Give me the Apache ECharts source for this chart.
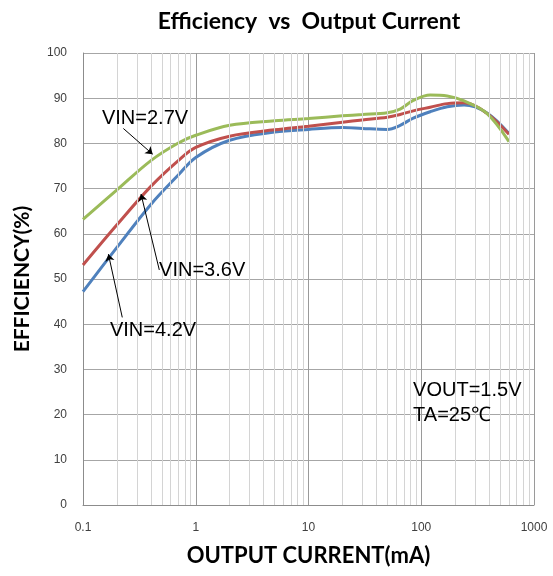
<!DOCTYPE html>
<html>
<head>
<meta charset="utf-8">
<script src="https://cdn.jsdelivr.net/npm/echarts@6/dist/echarts.min.js"></script>
<style>
    html, body { margin: 0; padding: 0; background: #fff; }
    #main { width: 553px; height: 576px; }
</style>
</head>
<body>
<div id="main"></div>
<script>
// output current (mA), log scale
var current = [0.1, 0.2, 0.4, 0.7, 1, 2, 5, 10, 20, 30, 50, 65, 85, 120, 170, 240, 380, 600];
// efficiency (%) per input voltage
var eff27 = [63.2, 69.7, 76.2, 80.1, 81.8, 84.0, 85.0, 85.5, 86.1, 86.4, 86.8, 87.6, 89.5, 90.7, 90.5, 89.4, 86.7, 80.4];
var eff36 = [53.1, 62.0, 70.5, 76.2, 79.1, 81.6, 83.0, 83.8, 84.7, 85.2, 85.8, 86.4, 87.2, 88.0, 88.8, 89.0, 86.7, 82.0];
var eff42 = [47.2, 57.0, 66.5, 73.0, 76.9, 80.7, 82.5, 83.1, 83.5, 83.3, 83.1, 84.0, 85.6, 87.0, 88.1, 88.5, 86.8, 82.2];
var xTickLabels = ['0.1', '1', '10', '100', '1000'];
var yTicks = [0, 10, 20, 30, 40, 50, 60, 70, 80, 90, 100];
// minor vertical grid lines (2..9 of each decade)
var minorX = [];
for (var d = 0.1; d < 1000; d *= 10) {
    for (var k = 2; k <= 9; k++) {
        minorX.push(+(d * k).toPrecision(3));
    }
}

function pairs(ys) {
    var out = [];
    for (var i = 0; i < current.length; i++) {
        out.push([current[i], ys[i]]);
    }
    return out;
}

var myChart = echarts.init(document.getElementById('main'));
var txtFont = '"Liberation Sans", Arial, sans-serif';

var option = {
    animation: false,
    title: {
        text: 'Efficiency  vs  Output Current',
        left: 304,
        textAlign: 'center',
        top: 5,
        textStyle: { fontFamily: 'Lato, sans-serif', fontWeight: 'bold', fontSize: 23, color: '#000' }
    },
    grid: { left: 83, right: 19, top: 53, bottom: 71 },
    xAxis: {
        type: 'log',
        logBase: 10,
        min: 0.1,
        max: 1000,
        name: 'OUTPUT CURRENT(mA)',
        nameLocation: 'middle',
        nameGap: 40,
        nameTextStyle: { fontFamily: 'Lato, sans-serif', fontWeight: 'bold', fontSize: 22, color: '#000' },
        axisLine: { lineStyle: { color: '#8c8c8c' } },
        axisTick: { show: false },
        axisLabel: {
            margin: 17,
            fontFamily: txtFont,
            fontSize: 12,
            color: '#404040',
            formatter: function (v) {
                var s = String(+v.toPrecision(3));
                return xTickLabels.indexOf(s) >= 0 ? s : '';
            }
        },
        splitLine: { show: true, lineStyle: { color: '#9a9a9a' } }
    },
    yAxis: {
        type: 'value',
        min: 0,
        max: 100,
        interval: 10,
        name: 'EFFICIENCY(%)',
        nameLocation: 'middle',
        nameGap: 50,
        nameTextStyle: { fontFamily: 'Lato, sans-serif', fontWeight: 'bold', fontSize: 21, color: '#000' },
        axisLine: { show: true, lineStyle: { color: '#8c8c8c' } },
        axisTick: { show: false },
        axisLabel: {
            margin: 16,
            fontFamily: txtFont,
            fontSize: 12,
            color: '#404040',
            formatter: function (v) { return yTicks.indexOf(v) >= 0 ? String(v) : ''; }
        },
        splitLine: { show: true, lineStyle: { color: '#a6a6a6' } }
    },
    series: [
        {
            name: 'grid',
            type: 'line',
            data: [],
            z: 1,
            silent: true,
            markLine: {
                silent: true,
                symbol: ['none', 'none'],
                label: { show: false },
                lineStyle: { color: '#d4d4d4', width: 1, type: 'solid' },
                data: minorX.map(function (v) { return { xAxis: v }; })
            }
        },
        {
            name: 'VIN=4.2V',
            type: 'line',
            smooth: 0.35,
            showSymbol: false,
            data: pairs(eff42),
            lineStyle: { color: '#4F81BD', width: 3 },
            itemStyle: { color: '#4F81BD' }
        },
        {
            name: 'VIN=3.6V',
            type: 'line',
            smooth: 0.35,
            showSymbol: false,
            data: pairs(eff36),
            lineStyle: { color: '#C0504D', width: 3 },
            itemStyle: { color: '#C0504D' }
        },
        {
            name: 'VIN=2.7V',
            type: 'line',
            smooth: 0.35,
            showSymbol: false,
            data: pairs(eff27),
            lineStyle: { color: '#9BBB59', width: 3 },
            itemStyle: { color: '#9BBB59' },
            // arrows and texts for annotation
            markLine: {
                silent: true,
                symbol: ['none', 'arrow'],
                symbolSize: 7,
                label: { show: false },
                lineStyle: { color: '#000', width: 1, type: 'solid' },
                data: [
                    [{ coord: [0.228, 83.3] }, { coord: [0.415, 77.6] }],
                    [{ coord: [0.475, 52.0] }, { coord: [0.327, 68.8] }],
                    [{ coord: [0.223, 41.5] }, { coord: [0.168, 55.5] }]
                ]
            },
            markPoint: {
                silent: true,
                symbolSize: 0,
                label: {
                    show: true,
                    position: 'inside',
                    fontFamily: txtFont,
                    fontSize: 20,
                    color: '#000',
                    formatter: '{b}'
                },
                data: [
                    { name: 'VIN=2.7V', coord: [0.355, 85.6] },
                    { name: 'VIN=3.6V', coord: [1.14, 51.8] },
                    { name: 'VIN=4.2V', coord: [0.418, 38.5] },
                    { name: 'VOUT=1.5V', coord: [84.7, 25.4], label: { align: 'left' } },
                    { name: 'TA=25℃', coord: [84.7, 19.7], label: { align: 'left' } }
                ]
            }
        }
    ]
};
myChart.setOption(option);
</script>
</body>
</html>
